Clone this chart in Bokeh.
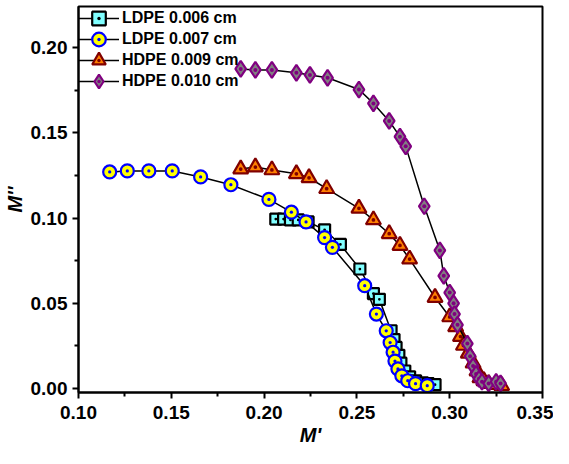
from bokeh.plotting import figure
from bokeh.models import Range1d, Legend, LegendItem, FixedTicker, ColumnDataSource
from bokeh.embed import file_html
from bokeh.resources import INLINE

# LDPE 0.006 cm
x1 = [0.2063, 0.2105, 0.2142, 0.2184, 0.2237, 0.2326, 0.2411, 0.2516, 0.2589, 0.2621,
      0.2684, 0.2700, 0.2711, 0.2726, 0.2737, 0.2758, 0.2784, 0.2816, 0.2853, 0.2884,
      0.2921]
y1 = [0.0994, 0.0994, 0.0989, 0.0989, 0.0977, 0.0931, 0.0845, 0.0701, 0.0557, 0.0523,
      0.0339, 0.0287, 0.0241, 0.0195, 0.0149, 0.0103, 0.0069, 0.0046, 0.0034, 0.0029,
      0.0023]
# LDPE 0.007 cm
x2 = [0.1168, 0.1263, 0.1379, 0.1505, 0.1658, 0.1821, 0.2026, 0.2147, 0.2226, 0.2326,
      0.2368, 0.2542, 0.2605, 0.2658, 0.2679, 0.2695, 0.2705, 0.2721, 0.2742, 0.2774,
      0.2816, 0.2879]
y2 = [0.1270, 0.1276, 0.1276, 0.1276, 0.1241, 0.1195, 0.1109, 0.1034, 0.0977, 0.0885,
      0.0828, 0.0603, 0.0437, 0.0339, 0.0270, 0.0213, 0.0161, 0.0115, 0.0075, 0.0046,
      0.0029, 0.0017]
# HDPE 0.009 cm
x3 = [0.1874, 0.1953, 0.2042, 0.2174, 0.2242, 0.2337, 0.2511, 0.2589, 0.2674, 0.2732,
      0.2784, 0.2921, 0.3000, 0.3032, 0.3058, 0.3074, 0.3100, 0.3126, 0.3147, 0.3163,
      0.3184, 0.3210, 0.3253, 0.3280]
y3 = [0.1287, 0.1299, 0.1282, 0.1259, 0.1236, 0.1172, 0.1057, 0.0989, 0.0908, 0.0839,
      0.0759, 0.0534, 0.0420, 0.0362, 0.0305, 0.0253, 0.0207, 0.0149, 0.0103, 0.0063,
      0.0046, 0.0029, 0.0023, 0.0017]
# HDPE 0.010 cm
x4 = [0.1874, 0.1953, 0.2042, 0.2174, 0.2247, 0.2342, 0.2511, 0.2589, 0.2674, 0.2732,
      0.2763, 0.2863, 0.2947, 0.2968, 0.3000, 0.3021, 0.3026, 0.3042, 0.3095, 0.3110,
      0.3126, 0.3142, 0.3158, 0.3174, 0.3210, 0.3250, 0.3274]
y4 = [0.1874, 0.1868, 0.1868, 0.1851, 0.1839, 0.1822, 0.1753, 0.1672, 0.1569, 0.1477,
      0.1420, 0.1069, 0.0810, 0.0661, 0.0563, 0.0500, 0.0437, 0.0374, 0.0264, 0.0190,
      0.0132, 0.0086, 0.0057, 0.0040, 0.0030, 0.0040, 0.0030]

labels = ["LDPE 0.006 cm", "LDPE 0.007 cm", "HDPE 0.009 cm", "HDPE 0.010 cm"]
x_ticks = [0.10, 0.15, 0.20, 0.25, 0.30, 0.35]
y_ticks = [0.00, 0.05, 0.10, 0.15, 0.20]

p = figure(width=553, height=448, output_backend="svg", toolbar_location=None,
           x_range=Range1d(0.10, 0.35), y_range=Range1d(-0.0023, 0.224),
           min_border_left=66, min_border_right=11, min_border_top=6, min_border_bottom=48)
p.grid.visible = False
p.outline_line_color = "black"
p.outline_line_width = 2
p.background_fill_color = "white"
p.border_fill_color = "white"

FONT = "Liberation Sans"
for ax in (p.xaxis[0], p.yaxis[0]):
    ax.axis_line_width = 2
    ax.major_tick_line_width = 2
    ax.minor_tick_line_width = 2
    ax.major_tick_out = 6
    ax.major_tick_in = 0
    ax.minor_tick_out = 4
    ax.minor_tick_in = 0
    ax.major_label_text_font = FONT
    ax.major_label_text_font_style = "bold"
    ax.major_label_text_font_size = "19px"
    ax.major_label_text_color = "black"
    ax.axis_label_text_font = FONT
    ax.axis_label_text_font_style = "bold italic"
    ax.axis_label_text_font_size = "20px"
    ax.axis_label_text_color = "black"
p.xaxis.ticker = FixedTicker(ticks=x_ticks, minor_ticks=[0.125, 0.175, 0.225, 0.275, 0.325])
p.yaxis.ticker = FixedTicker(ticks=y_ticks, minor_ticks=[0.025, 0.075, 0.125, 0.175])
p.xaxis.major_label_overrides = {t: f"{t:.2f}" for t in x_ticks}
p.yaxis.major_label_overrides = {t: f"{t:.2f}" for t in y_ticks}
p.xaxis.axis_label = "M'"
p.yaxis.axis_label = "M''"
p.xaxis.major_label_standoff = 7
p.yaxis.major_label_standoff = 5
p.xaxis.axis_label_standoff = 2
p.yaxis.axis_label_standoff = 2

series = [
    (x1, y1, "square_dot", "#80FFFF", "black", 11),
    (x2, y2, "circle_dot", "#FFFF00", "#0000FF", 13),
    (x3, y3, "triangle_dot", "#FF8000", "#800000", 15),
    (x4, y4, "diamond_dot", "#808080", "#800080", 16),
]
for k, ((xs, ys, mk, fc, lc, sz), lab) in enumerate(zip(series, labels)):
    src = ColumnDataSource(dict(x=xs, y=ys))
    ln = p.line("x", "y", source=src, line_color="black", line_width=1.5)
    sc = p.scatter("x", "y", source=src, marker=mk, size=sz, fill_color=fc,
                   line_color=lc, line_width=2.2)
    # one single-row legend per series, stacked 21px apart from the frame top
    leg = Legend(items=[LegendItem(label=lab, renderers=[ln, sc])],
                 location=(0, 357 - 21 * k))
    leg.border_line_color = None
    leg.background_fill_alpha = 0
    leg.label_text_font = FONT
    leg.label_text_font_style = "bold"
    leg.label_text_font_size = "16px"
    leg.label_text_color = "black"
    leg.glyph_width = 41
    leg.glyph_height = 34
    leg.label_height = 34
    leg.padding = 0
    leg.margin = 0
    leg.label_standoff = 3
    p.add_layout(leg)

open("out.html", "w").write(file_html(p, INLINE))
